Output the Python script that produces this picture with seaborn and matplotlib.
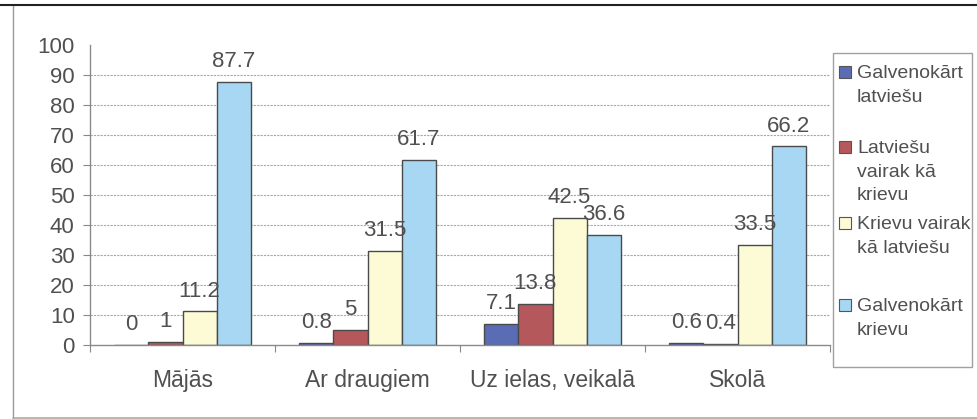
import numpy as np
import pandas as pd
import matplotlib
matplotlib.use("Agg")
import matplotlib.pyplot as plt
from matplotlib.patches import Rectangle
from matplotlib.lines import Line2D
import seaborn as sns

# data
places = ["Mājās", "Ar draugiem", "Uz ielas, veikalā", "Skolā"]
groups = ["Galvenokārt latviešu", "Latviešu vairak kā krievu",
          "Krievu vairak kā latviešu", "Galvenokārt krievu"]
legend_labels = ["Galvenokārt\nlatviešu", "Latviešu\nvairak kā\nkrievu",
                 "Krievu vairak\nkā latviešu", "Galvenokārt\nkrievu"]
mainly_lv = [0, 0.8, 7.1, 0.6]
more_lv = [1, 5, 13.8, 0.4]
more_ru = [11.2, 31.5, 42.5, 33.5]
mainly_ru = [87.7, 61.7, 36.6, 66.2]
colors = ["#5a6cb4", "#b5585c", "#fdfbd6", "#a7d7f3"]
y_ticks = list(range(0, 101, 10))

rows = []
for g, vals in zip(groups, [mainly_lv, more_lv, more_ru, mainly_ru]):
    for p, v in zip(places, vals):
        rows.append({"vieta": p, "grupa": g, "procenti": v})
df = pd.DataFrame(rows)

sns.set_style("white")
plt.rcParams["font.family"] = ["Liberation Sans", "DejaVu Sans"]
txt = "#505050"

W, H = 977, 419
fig = plt.figure(figsize=(W / 100, H / 100), dpi=100)
ax = fig.add_axes([90 / W, 74 / H, 740 / W, 300 / H])

sns.barplot(data=df, x="vieta", y="procenti", hue="grupa", order=places,
            hue_order=groups, palette=colors, saturation=1, width=0.74,
            edgecolor="#4a4a4a", linewidth=1, legend=False, ax=ax)

for cont in ax.containers:
    ax.bar_label(cont, labels=[f"{b.get_height():g}" for b in cont],
                 padding=7, fontsize=16, color=txt)

ax.set_ylim(0, 100)
ax.set_xlim(-0.5, 3.5)
ax.set_yticks(y_ticks)
ax.set_xlabel("")
ax.set_ylabel("")
ax.yaxis.grid(True, color="#a8a8a8", linestyle=(0, (2, 1)), linewidth=0.8)
ax.get_ygridlines()[0].set_visible(False)
ax.get_ygridlines()[-1].set_visible(False)
ax.set_axisbelow(True)

ax.tick_params(axis="y", which="major", length=5, width=0.8, color="#888888",
               pad=6, labelsize=16, labelcolor=txt, left=True)
ax.yaxis.get_major_ticks()[-1].tick1line.set_visible(False)
ax.set_xticks(np.arange(-0.5, 4, 1), minor=True)
ax.tick_params(axis="x", which="major", length=0, pad=17, labelsize=16.5,
               labelcolor=txt)
ax.tick_params(axis="x", which="minor", length=5, width=0.8, color="#888888",
               bottom=True)

for s in ["top", "right"]:
    ax.spines[s].set_visible(False)
for s in ["left", "bottom"]:
    ax.spines[s].set_color("#8a8a8a")
    ax.spines[s].set_linewidth(1)

# legend box, drawn like the Excel one (marker beside the first line)
def fx(px):
    return px / W

def fy(py):
    return 1 - py / H

fig.patches.append(Rectangle((fx(833), fy(367)), fx(972) - fx(833),
                             fy(53) - fy(367), transform=fig.transFigure,
                             facecolor="white", edgecolor="#a0a0a0", lw=1))
first_line = [72, 147, 223, 305]
for lab, col, y in zip(legend_labels, colors, first_line):
    fig.patches.append(Rectangle((fx(839), fy(y + 6)), fx(851) - fx(839),
                                 fy(y - 6) - fy(y + 6),
                                 transform=fig.transFigure, facecolor=col,
                                 edgecolor="#555555", lw=0.8))
    fig.text(fx(857), fy(y - 7), lab, fontsize=14, color=txt, va="top",
             linespacing=1.5, transform=fig.transFigure)

# outer frame of the scanned chart
fig.add_artist(Line2D([fx(13), fx(13)], [fy(5), fy(418)], color="#9a9a9a",
                      lw=1, transform=fig.transFigure))
fig.add_artist(Line2D([fx(13), fx(977)], [fy(418), fy(418)], color="#b0a898",
                      lw=1.2, transform=fig.transFigure))
fig.add_artist(Line2D([fx(0), fx(977)], [fy(5), fy(5)], color="#222222",
                      lw=1.5, transform=fig.transFigure))

fig.savefig("out.png", dpi=100)
